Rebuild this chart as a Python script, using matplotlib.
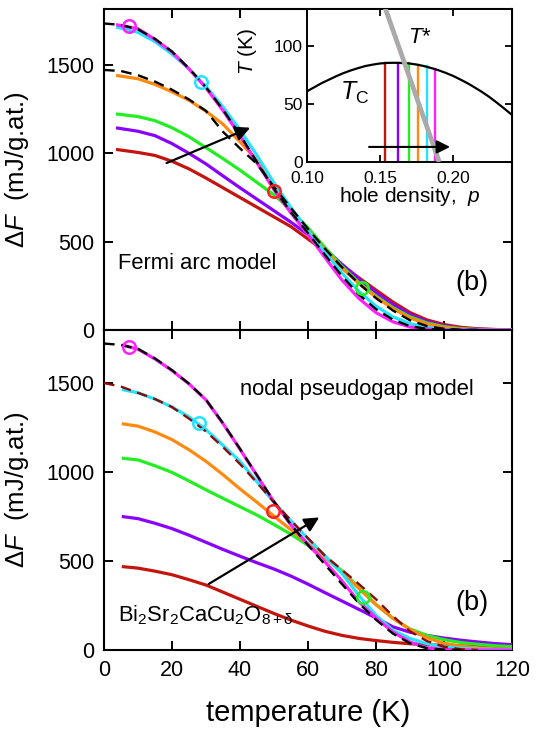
import matplotlib
matplotlib.use("Agg")
import matplotlib.pyplot as plt

plt.rcParams['font.family'] = ['Liberation Sans', 'DejaVu Sans']
plt.rcParams['mathtext.fontset'] = 'custom'
plt.rcParams['mathtext.rm'] = 'Liberation Sans'
plt.rcParams['mathtext.it'] = 'Liberation Sans:italic'
plt.rcParams['mathtext.bf'] = 'Liberation Sans:bold'

RED = "#c4140e"; PURPLE = "#8a00ff"; GREEN = "#22ee22"; ORANGE = "#ff8a10"
CYAN = "#22e4ff"; MAGENTA = "#ff22ff"; BROWN = "#8b0a0a"
CIRC_RED = "#ff2020"; CIRC_GREEN = "#22ee22"
COLORS = [RED, PURPLE, GREEN, ORANGE, CYAN, MAGENTA]

# ---- upper panel: Fermi arc model ----
T_TOP = [4, 10, 15, 20, 25, 30, 35, 40, 45, 50, 55, 60, 65, 70, 75, 80, 85, 90, 95, 100, 105, 110, 115, 120]
top_red     = [1021, 1005, 988, 955, 912, 860, 805, 750, 695, 640, 585, 515, 445, 368, 295, 226, 158, 99, 57, 31, 15, 7, 3, 1]
top_purple  = [1143, 1125, 1100, 1055, 1000, 940, 872, 805, 740, 675, 610, 540, 458, 372, 288, 212, 144, 88, 48, 23, 10, 4, 2, 1]
top_green   = [1222, 1208, 1185, 1145, 1094, 1032, 970, 905, 835, 765, 680, 578, 466, 360, 268, 192, 126, 75, 40, 19, 8, 3, 1, 0]
top_orange  = [1440, 1422, 1390, 1348, 1300, 1238, 1165, 1065, 960, 815, 682, 562, 452, 350, 262, 186, 120, 68, 34, 15, 6, 2, 1, 0]
top_cyan    = [1713, 1685, 1632, 1562, 1478, 1378, 1262, 1132, 988, 832, 692, 562, 440, 322, 218, 135, 74, 36, 15, 5, 2, 1, 0, 0]
top_magenta = [1727, 1705, 1645, 1574, 1478, 1370, 1242, 1100, 946, 794, 662, 540, 410, 282, 178, 98, 46, 17, 5, 1, 0, 0, 0, 0]

T_DASH_TOP = [0, 5, 10, 15, 20, 25, 30, 35, 40, 45, 50, 55, 60, 65, 70, 75, 80, 85, 90, 95, 100, 105, 110]
top_dash_a = [1735, 1727, 1702, 1648, 1576, 1480, 1374, 1247, 1104, 950, 798, 666, 548, 425, 305, 200, 118, 58, 22, 6, 1, 0, 0]
top_dash_b = [1472, 1466, 1442, 1406, 1360, 1305, 1240, 1122, 1028, 940, 810, 690, 572, 460, 355, 262, 180, 110, 55, 22, 7, 1, 0]

top_circ_T = [7.4, 28.4, 50, 76]
top_circ_F = [1721, 1406, 786, 239]

# ---- lower panel: nodal pseudogap model ----
T_BOT = [5.7, 10, 15, 20, 25, 30, 35, 40, 45, 50, 55, 60, 65, 70, 75, 80, 85, 90, 95, 100, 105, 110, 115, 120]
bot_red     = [468, 460, 443, 423, 395, 365, 325, 285, 245, 205, 168, 135, 105, 82, 65, 53, 43, 35, 30, 26, 23, 21, 20, 19]
bot_purple  = [749, 738, 712, 682, 645, 605, 565, 527, 490, 455, 415, 370, 322, 275, 228, 180, 130, 100, 82, 67, 55, 45, 36, 30]
bot_green   = [1077, 1068, 1035, 998, 950, 900, 852, 805, 758, 705, 650, 588, 522, 445, 350, 255, 178, 118, 82, 58, 42, 32, 24, 19]
bot_orange  = [1270, 1258, 1225, 1182, 1125, 1060, 985, 905, 830, 752, 675, 598, 520, 435, 345, 255, 178, 115, 68, 38, 22, 12, 6, 4]
bot_cyan    = [1462, 1445, 1410, 1365, 1310, 1238, 1150, 1060, 945, 830, 725, 625, 530, 430, 305, 195, 110, 65, 35, 18, 9, 5, 3, 2]
bot_magenta = [1712, 1690, 1635, 1570, 1495, 1405, 1272, 1128, 980, 832, 702, 592, 495, 388, 270, 180, 100, 45, 12, 3, 1, 0, 0, 0]

T_DASH_A_BOT = [0, 5, 10, 15, 20, 25, 30, 35, 40, 45, 50, 55, 60, 65, 70, 75, 80, 85, 90, 95, 100, 105]
bot_dash_a = [1722, 1714, 1692, 1638, 1572, 1496, 1406, 1274, 1130, 982, 834, 704, 590, 480, 370, 262, 170, 92, 38, 10, 2, 0]
T_DASH_B_BOT = [0, 5, 10, 15, 20, 25, 30, 35, 40, 45, 50, 55, 60, 65, 70, 75, 80, 85, 90, 95, 100, 105, 110]
bot_dash_b = [1500, 1480, 1445, 1410, 1365, 1300, 1228, 1140, 1045, 940, 830, 728, 628, 530, 450, 370, 285, 190, 105, 50, 18, 4, 0]

bot_circ_T = [7.4, 27.9, 49.8, 76.3]
bot_circ_F = [1704, 1273, 781, 300]
CIRC_COLORS = [MAGENTA, CYAN, CIRC_RED, CIRC_GREEN]

ARROW_TOP = ((18.4, 945), (43.0, 1145))
ARROW_BOT = ((30.8, 371), (63.3, 745))

# ---- inset: phase diagram ----
p_dome = [0.100, 0.105, 0.110, 0.115, 0.120, 0.125, 0.130, 0.135, 0.140, 0.145, 0.150, 0.155, 0.160,
          0.165, 0.170, 0.175, 0.180, 0.185, 0.190, 0.195, 0.200, 0.205, 0.210, 0.215, 0.220,
          0.225, 0.230, 0.235, 0.240]
Tc_dome = [61, 64.5, 68, 71, 74, 76.7, 79, 81, 82.8, 84, 85, 85.5, 85.6,
           85.4, 85, 84.1, 82.8, 81.1, 79.2, 76.9, 74.3, 71.2, 67.9, 64.2, 60.3,
           56, 51.2, 46.2, 41]
p_lines = [0.1536, 0.1626, 0.170, 0.1763, 0.182, 0.188]
Tc_lines = [85.5, 85.5, 85, 84, 82.5, 80]
p_tstar = [0.1535, 0.1906]
T_tstar = [133, 0]
INSET_ARROW = ((0.1425, 13), (0.198, 13))

W, H = 538, 729
fig = plt.figure(figsize=(W / 100, H / 100), dpi=100)
L, R = 104, 512
ax_top = fig.add_axes([L / W, 1 - 330 / H, (R - L) / W, 321 / H])
ax_bot = fig.add_axes([L / W, 1 - 650 / H, (R - L) / W, 320 / H])

def style_main(ax, ymax):
    ax.set_xlim(0, 120)
    ax.set_ylim(0, ymax)
    ax.set_xticks(range(0, 121, 20))
    ax.set_yticks([0, 500, 1000, 1500])
    ax.tick_params(direction='in', length=6.5, width=1.4, top=True, right=True,
                   labelsize=15.5, pad=7)
    for s in ax.spines.values():
        s.set_linewidth(1.5)
    ax.set_ylabel(r"Δ$\mathit{F}$  (mJ/g.at.)", fontsize=18.5)
    ax.yaxis.set_label_coords(-0.18, 0.5)

def draw_panel(ax, T, curves, dashes, circ_T, circ_F, arrow):
    for y, c in zip(curves, COLORS):
        ax.plot(T, y, color=c, lw=2.3, solid_joinstyle='round', zorder=3)
    for Td, yd, c in dashes:
        ax.plot(Td, yd, color=c, lw=1.7, ls=(0, (4.5, 2.8)), zorder=4)
    for t, f, c in zip(circ_T, circ_F, CIRC_COLORS):
        ax.plot(t, f, 'o', ms=9, mfc='none', mec=c, mew=1.8, zorder=5)
    ax.annotate("", xy=arrow[1], xytext=arrow[0],
                arrowprops=dict(arrowstyle='-|>', color='k', lw=1.6,
                                mutation_scale=22, shrinkA=0, shrinkB=0), zorder=6)

draw_panel(ax_top, T_TOP,
           [top_red, top_purple, top_green, top_orange, top_cyan, top_magenta],
           [(T_DASH_TOP, top_dash_b, 'k'), (T_DASH_TOP, top_dash_a, 'k')],
           top_circ_T, top_circ_F, ARROW_TOP)
draw_panel(ax_bot, T_BOT,
           [bot_red, bot_purple, bot_green, bot_orange, bot_cyan, bot_magenta],
           [(T_DASH_B_BOT, bot_dash_b, BROWN), (T_DASH_A_BOT, bot_dash_a, 'k')],
           bot_circ_T, bot_circ_F, ARROW_BOT)

style_main(ax_top, 1817)
style_main(ax_bot, 1798)
ax_top.tick_params(labelbottom=False)
ax_bot.set_xlabel("temperature (K)", fontsize=21, labelpad=13)

ax_top.text(4.2, 379, "Fermi arc model", fontsize=15.8, va='center', ha='left')
ax_top.text(113, 266, "(b)", fontsize=19.5, va='center', ha='right')
ax_bot.text(40, 1461, "nodal pseudogap model", fontsize=15.8, va='center', ha='left')
ax_bot.text(4.2, 196, r"Bi$_2$Sr$_2$CaCu$_2$O$_{\mathrm{8+δ}}$", fontsize=15.8, va='center', ha='left')
ax_bot.text(113, 264, "(b)", fontsize=19.5, va='center', ha='right')

# inset
ax_in = fig.add_axes([307 / W, 1 - 162 / H, 205 / W, 153 / H])
ax_in.set_xlim(0.10, 0.2404)
ax_in.set_ylim(0, 132)
ax_in.plot(p_dome, Tc_dome, color='k', lw=1.6, zorder=3)
for p, tc, c in zip(p_lines, Tc_lines, COLORS):
    ax_in.plot([p, p], [0, tc], color=c, lw=1.7, zorder=2)
ax_in.plot(p_tstar, T_tstar, color='#aaaaaa', lw=3.4, zorder=4, solid_capstyle='butt')
ax_in.annotate("", xy=INSET_ARROW[1], xytext=INSET_ARROW[0],
               arrowprops=dict(arrowstyle='-|>', color='k', lw=1.5,
                               mutation_scale=20, shrinkA=0, shrinkB=0), zorder=6)
ax_in.set_xticks([0.10, 0.15, 0.20])
ax_in.set_xticklabels(["0.10", "0.15", "0.20"])
ax_in.set_yticks([0, 50, 100])
ax_in.tick_params(direction='in', length=5, width=1.3, top=True, right=True,
                  labelsize=12.5, pad=3)
ax_in.tick_params(axis='x', pad=6.5)
for s in ax_in.spines.values():
    s.set_linewidth(1.4)
ax_in.set_xlabel(r"hole density,  $\mathit{p}$", fontsize=15, labelpad=-1)
ax_in.set_ylabel(r"$\mathit{T}$ (K)", fontsize=15)
ax_in.yaxis.set_label_coords(-0.235, 0.72)
ax_in.text(0.169, 107, r"$\mathit{T}$*", fontsize=16, va='center', ha='left')
ax_in.text(0.1226, 60, r"$\mathit{T}_{\mathrm{C}}$", fontsize=18, va='center', ha='left')

fig.savefig("out.png", dpi=100)
